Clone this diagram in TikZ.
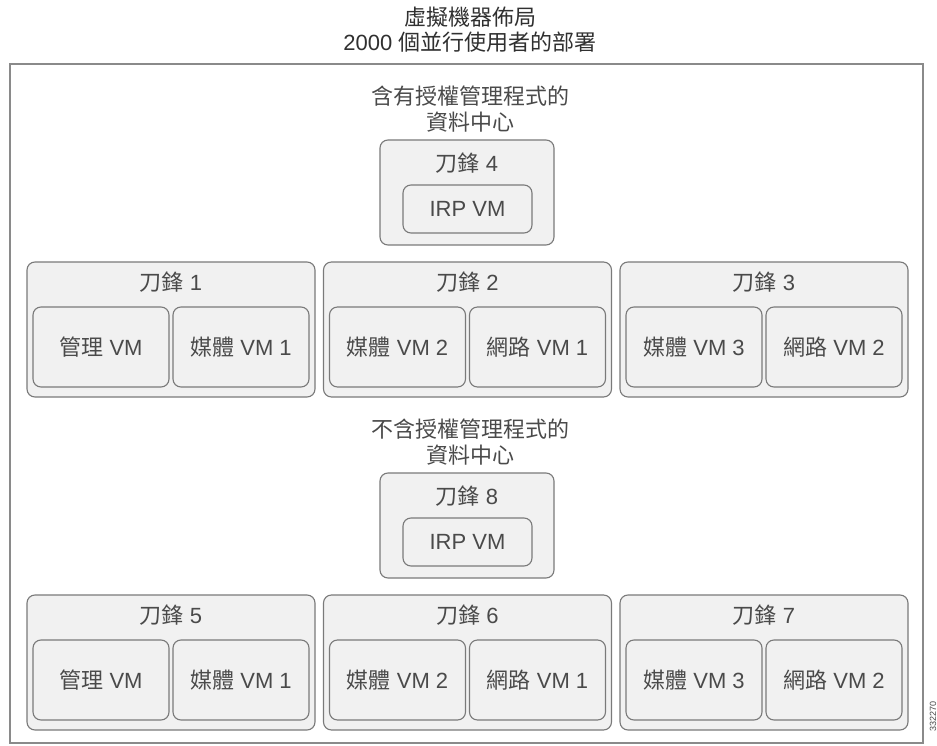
\documentclass[tikz,border=0pt]{standalone}
\usepackage{fontspec}
\setmainfont{Liberation Sans}
\newfontfamily\cjk{Noto Sans CJK TC}
\definecolor{frame}{HTML}{8A8A8A}
\definecolor{boxline}{HTML}{7A7A7A}
\definecolor{boxfill}{HTML}{F1F1F1}
\definecolor{txt}{HTML}{4A4A4A}
\definecolor{ttl}{HTML}{303030}
\tikzset{
  blade/.style={draw=boxline, fill=boxfill, rounded corners=8pt, line width=1.1pt, inner sep=0pt},
  vmbox/.style={draw=boxline, fill=boxfill, rounded corners=8pt, line width=1.1pt, inner sep=0pt,
    text=txt, font=\fontsize{22}{24}\selectfont},
  lbl/.style={text=txt, font=\fontsize{22}{24}\selectfont, inner sep=0pt},
  head/.style={text=txt, font=\fontsize{22}{26}\selectfont, align=center, inner sep=0pt},
  ttlst/.style={text=ttl, font=\fontsize{22}{25}\selectfont, align=center, inner sep=0pt},
}
\newcommand{\cj}[1]{{\cjk #1}}
\begin{document}
\begin{tikzpicture}[x=1pt,y=-1pt]
\useasboundingbox[fill=white] (0,0) rectangle (937,746);
% title
\node[ttlst] (title) at (470,30) {\cj{虛擬機器佈局}\\2000 \cj{個並行使用者的部署}};
% outer frame
\node[draw=frame, line width=2pt, minimum width=913pt, minimum height=679pt, inner sep=0pt] (frame) at (466.5,403.5) {};
% side number
\node[rotate=90, text=txt, font=\fontsize{9}{9}\selectfont, inner sep=0pt] (fig) at (933,716) {332270};

\foreach \dy/\hd/\bt/\bl/\bm/\br in {0/含有/4/1/2/3, 333/不含/8/5/6/7}{
  \node[head] (hd\bt) at (470,109+\dy) {\cj{\hd 授權管理程式的}\\\cj{資料中心}};
  % top blade with IRP VM
  \node[blade, minimum width=174pt, minimum height=105pt] (b\bt) at (467,192.5+\dy) {};
  \node[lbl] (l\bt) at (467,163+\dy) {\cj{刀鋒} \bt};
  \node[vmbox, minimum width=129pt, minimum height=48pt] (irp\bt) at (467.5,209+\dy) {IRP VM};
  % row of three blades
  \node[blade, minimum width=288pt, minimum height=135pt] (b\bl) at (171,329.5+\dy) {};
  \node[blade, minimum width=288pt, minimum height=135pt] (b\bm) at (467.5,329.5+\dy) {};
  \node[blade, minimum width=288pt, minimum height=135pt] (b\br) at (764,329.5+\dy) {};
  \node[lbl] (l\bl) at (171,282+\dy) {\cj{刀鋒} \bl};
  \node[lbl] (l\bm) at (467.5,282+\dy) {\cj{刀鋒} \bm};
  \node[lbl] (l\br) at (764,282+\dy) {\cj{刀鋒} \br};
  \node[vmbox, minimum width=136pt, minimum height=80pt] (m\bl a) at (101,347+\dy) {\cj{管理} VM};
  \node[vmbox, minimum width=136pt, minimum height=80pt] (m\bl b) at (241,347+\dy) {\cj{媒體} VM 1};
  \node[vmbox, minimum width=136pt, minimum height=80pt] (m\bm a) at (397.5,347+\dy) {\cj{媒體} VM 2};
  \node[vmbox, minimum width=136pt, minimum height=80pt] (m\bm b) at (537.5,347+\dy) {\cj{網路} VM 1};
  \node[vmbox, minimum width=136pt, minimum height=80pt] (m\br a) at (694,347+\dy) {\cj{媒體} VM 3};
  \node[vmbox, minimum width=136pt, minimum height=80pt] (m\br b) at (834,347+\dy) {\cj{網路} VM 2};
}
\end{tikzpicture}
\end{document}
